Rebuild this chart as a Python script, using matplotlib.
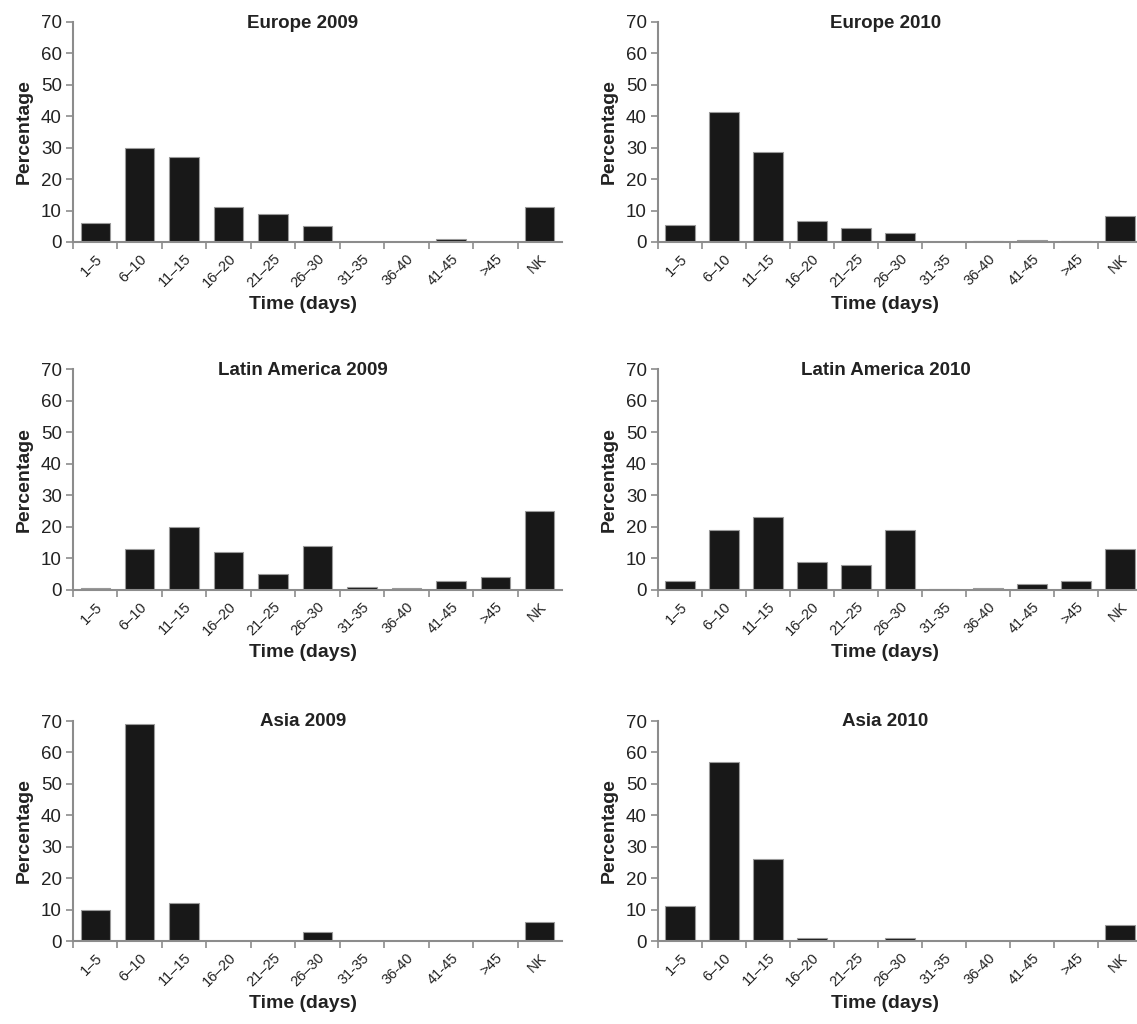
import numpy as np
import matplotlib.pyplot as plt
from matplotlib.ticker import FixedLocator

plt.rcParams['font.family'] = ['Liberation Sans', 'DejaVu Sans']

categories = ['1–5', '6–10', '11–15', '16–20', '21–25', '26–30',
              '31-35', '36-40', '41-45', '>45', 'NK']

europe_2009 = [6, 30, 27, 11, 9, 5, 0, 0, 1, 0, 11]
europe_2010 = [5.5, 41.5, 28.5, 6.7, 4.3, 3, 0, 0.3, 0.5, 0.3, 8.2]
latam_2009 = [0.7, 13, 20, 12, 5, 14, 1, 0.7, 3, 4, 25]
latam_2010 = [3, 19, 23, 9, 8, 19, 0.2, 0.5, 2, 3, 13]
asia_2009 = [10, 69, 12, 0, 0, 3, 0, 0, 0, 0, 6]
asia_2010 = [11, 57, 26, 0.8, 0, 0.8, 0, 0, 0, 0, 5]

panels = [
    ('Europe 2009', europe_2009), ('Europe 2010', europe_2010),
    ('Latin America 2009', latam_2009), ('Latin America 2010', latam_2010),
    ('Asia 2009', asia_2009), ('Asia 2010', asia_2010),
]

W, H = 1137, 1024
fig = plt.figure(figsize=(W / 100, H / 100), dpi=100)

# pixel layout: left x per column, (zero-line y, top y) per row
lefts = [73, 658]
widths = [489, 484]
rows = [(242, 22), (590, 369), (941, 721)]

grey = '#8c8c8c'
txt = '#222222'
x = np.arange(len(categories))

for i, (title, vals) in enumerate(panels):
    r, c = divmod(i, 2)
    y0, y1 = rows[r]
    ax = fig.add_axes([lefts[c] / W, 1 - y0 / H, widths[c] / W, (y0 - y1) / H])
    ax.bar(x, vals, width=0.66, color='#181818', edgecolor='#9a9a9a', linewidth=0.8)
    ax.set_xlim(-0.5, 10.5)
    ax.set_ylim(0, 70)
    ax.set_yticks(range(0, 71, 10))
    ax.tick_params(axis='y', labelsize=13.5, length=5, color=grey, width=1.2, pad=3,
                   labelcolor=txt)
    ax.xaxis.set_major_locator(FixedLocator(x))
    ax.set_xticklabels(categories, rotation=45, ha='right', rotation_mode='anchor',
                       fontsize=10.5, color=txt)
    ax.tick_params(axis='x', which='major', length=0, pad=7)
    ax.xaxis.set_minor_locator(FixedLocator(np.arange(-0.5, 10, 1)))
    ax.tick_params(axis='x', which='minor', length=5, color=grey, width=1.2)
    for s in ['top', 'right']:
        ax.spines[s].set_visible(False)
    for s in ['left', 'bottom']:
        ax.spines[s].set_color(grey)
        ax.spines[s].set_linewidth(1.5)
    ax.set_title(title, fontsize=13.5, fontweight='bold', y=0.975, x=0.47, pad=0,
                 color=txt)
    ax.set_xlabel('Time (days)', fontsize=14, fontweight='bold', labelpad=4, x=0.47,
                  color=txt)
    ax.set_ylabel('Percentage', fontsize=14, fontweight='bold', labelpad=6, color=txt)

plt.savefig('out.png', dpi=100)
